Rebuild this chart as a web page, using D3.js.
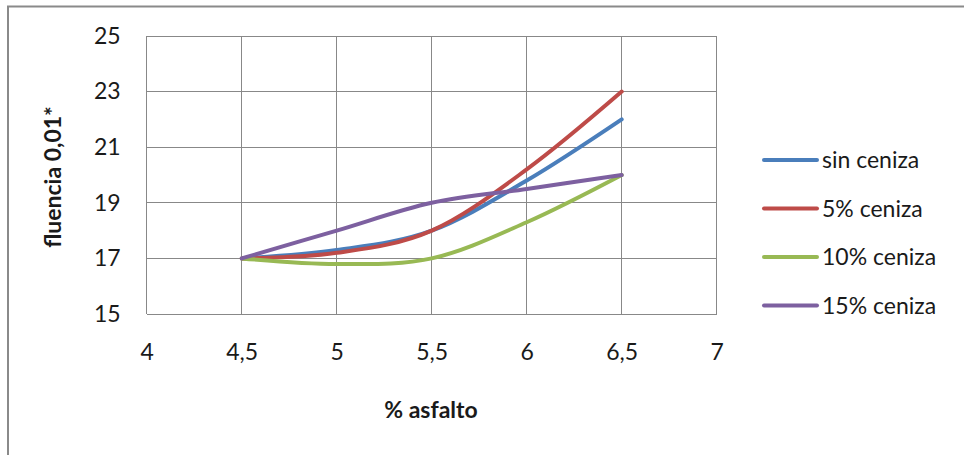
<!DOCTYPE html>
<html>
<head>
<meta charset="utf-8">
<script src="https://cdn.jsdelivr.net/npm/d3@7"></script>
<style>
  html, body { margin: 0; padding: 0; background: #fff; }
  svg { display: block; font-family: Lato, "Open Sans", sans-serif; }
</style>
</head>
<body>
<svg id="chart" width="964" height="455"></svg>
<script>
// % asfalto values
const asphalt = [4.5, 5, 5.5, 6, 6.5];
// fluencia (0,01") for each ash content
const sinCeniza = [17, 17.3, 18, 19.8, 22];
const ceniza5 = [17, 17.2, 18, 20.2, 23];
const ceniza10 = [17, 16.8, 17, 18.3, 20];
const ceniza15 = [17, 18, 19, 19.5, 20];
const seriesNames = ["sin ceniza", "5% ceniza", "10% ceniza", "15% ceniza"];
const seriesColors = ["#4a7ebb", "#be4b48", "#98b954", "#7d60a0"];
const xTicks = [4, 4.5, 5, 5.5, 6, 6.5, 7];
const yTicks = [15, 17, 19, 21, 23, 25];

const series = [sinCeniza, ceniza5, ceniza10, ceniza15].map((vals, i) => ({
  name: seriesNames[i],
  color: seriesColors[i],
  points: asphalt.map((a, j) => [a, vals[j]])
}));

const svg = d3.select("#chart");
const fmt = v => String(v).replace(".", ",");
const FONT = 23;

// Outer chart frame
svg.append("path")
  .attr("d", "M8,470 L8,6.5 L975,6.5")
  .attr("fill", "none").attr("stroke", "#8a8a8a").attr("stroke-width", 2);

const plot = { left: 146.7, right: 716.7, top: 36, bottom: 314 };
const x = d3.scaleLinear().domain([4, 7]).range([plot.left, plot.right]);
const y = d3.scaleLinear().domain([15, 25]).range([plot.bottom, plot.top]);

// Gridlines
const grid = svg.append("g").attr("stroke", "#888").attr("stroke-width", 1).attr("shape-rendering", "crispEdges");
grid.selectAll("line.v").data(xTicks).join("line")
  .attr("x1", d => x(d)).attr("x2", d => x(d))
  .attr("y1", plot.top).attr("y2", plot.bottom);
grid.selectAll("line.h").data(yTicks).join("line")
  .attr("x1", plot.left).attr("x2", plot.right)
  .attr("y1", d => y(d)).attr("y2", d => y(d));

// Axes (labels only, no domain line)
const xAxis = svg.append("g").attr("transform", `translate(0,${plot.bottom})`)
  .call(d3.axisBottom(x).tickValues(xTicks).tickFormat(fmt).tickSize(0).tickPadding(30));
const yAxis = svg.append("g").attr("transform", `translate(${plot.left},0)`)
  .call(d3.axisLeft(y).tickValues(yTicks).tickFormat(fmt).tickSize(0).tickPadding(26));
[xAxis, yAxis].forEach(g => {
  g.select(".domain").remove();
  g.selectAll("text").attr("font-size", FONT).attr("fill", "#1a1a1a").attr("font-family", "Lato, sans-serif");
});

// Series lines (smoothed)
const line = d3.line().x(d => x(d[0])).y(d => y(d[1])).curve(d3.curveCardinal.tension(0));
svg.append("g").selectAll("path").data(series).join("path")
  .attr("d", d => line(d.points))
  .attr("fill", "none")
  .attr("stroke", d => d.color)
  .attr("stroke-width", 4)
  .attr("stroke-linecap", "round")
  .attr("stroke-linejoin", "round");

// Axis titles
svg.append("text")
  .attr("x", 431).attr("y", 418)
  .attr("text-anchor", "middle")
  .attr("font-size", FONT).attr("font-weight", "bold").attr("fill", "#1a1a1a")
  .text("% asfalto");
svg.append("text")
  .attr("transform", "translate(61,177) rotate(-90)")
  .attr("text-anchor", "middle")
  .attr("font-size", FONT).attr("font-weight", "bold").attr("fill", "#1a1a1a")
  .text("fluencia 0,01*");

// Legend
const legend = svg.append("g").selectAll("g").data(series).join("g")
  .attr("transform", (d, i) => `translate(764,${160 + i * 48.5})`);
legend.append("line")
  .attr("x1", 0).attr("x2", 53).attr("y1", 0).attr("y2", 0)
  .attr("stroke", d => d.color).attr("stroke-width", 4).attr("stroke-linecap", "round");
legend.append("text")
  .attr("x", 58).attr("y", 0).attr("dy", "0.36em")
  .attr("font-size", FONT).attr("fill", "#1a1a1a")
  .text(d => d.name);
</script>
</body>
</html>
